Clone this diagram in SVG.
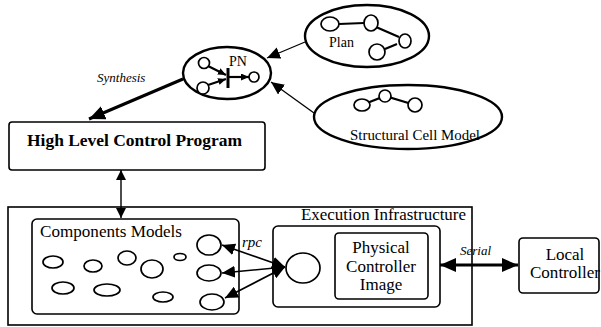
<svg xmlns="http://www.w3.org/2000/svg" width="601" height="327" viewBox="0 0 601 327">
<style>
text{font-family:"Liberation Serif",Tinos,"Times New Roman","DejaVu Serif",serif;fill:#000}
.it{font-style:italic}
.ln{stroke:#000;fill:none}
.bx{fill:#fff;stroke:#000;stroke-width:1.6}
.el{fill:#fff;stroke:#000;stroke-width:1.7}
.big{fill:none;stroke:#000;stroke-width:2.4}
</style>
<defs>
<marker id="aBig" markerUnits="userSpaceOnUse" viewBox="0 0 16 14" refX="16" refY="7" markerWidth="16" markerHeight="14" orient="auto-start-reverse"><path d="M0,0L16,7L0,14z"/></marker>
<marker id="aMid" markerUnits="userSpaceOnUse" viewBox="0 0 13 12" refX="13" refY="6" markerWidth="13" markerHeight="12" orient="auto-start-reverse"><path d="M0,0L13,6L0,12z"/></marker>
<marker id="aV" markerUnits="userSpaceOnUse" viewBox="0 0 10 10" refX="10" refY="5" markerWidth="10" markerHeight="10" orient="auto-start-reverse"><path d="M0,0L10,5L0,10z"/></marker>
<marker id="aS" markerUnits="userSpaceOnUse" viewBox="0 0 8 7" refX="8" refY="3.5" markerWidth="8" markerHeight="7" orient="auto-start-reverse"><path d="M0,0L8,3.5L0,7z"/></marker>
</defs>
<rect width="601" height="327" fill="#fff"/>

<g id="plan">
<ellipse class="big" cx="367" cy="36" rx="62" ry="31"/>
<path class="ln" stroke-width="2.2" d="M339,24L364,23M376,27L399,37M397,44L385,49"/>
<ellipse class="el" stroke-width="2.2" cx="330" cy="24" rx="9" ry="7"/>
<ellipse class="el" stroke-width="2.2" cx="371" cy="23" rx="7" ry="8"/>
<ellipse class="el" stroke-width="2.2" cx="405" cy="41" rx="6" ry="7"/>
<ellipse class="el" stroke-width="2.2" cx="377" cy="52" rx="8" ry="8"/>
<text x="329" y="47" font-size="14">Plan</text>
</g>

<g id="structural-cell-model">
<ellipse class="big" cx="408" cy="117" rx="94" ry="32"/>
<path class="ln" stroke-width="2.2" d="M362,105L385,96L415,105"/>
<ellipse class="el" stroke-width="2.2" cx="362" cy="105" rx="8" ry="6"/>
<ellipse class="el" stroke-width="2.2" cx="385" cy="96" rx="6" ry="6"/>
<ellipse class="el" stroke-width="2.2" cx="415" cy="105" rx="7" ry="7"/>
<text x="350" y="140" font-size="15" textLength="130" lengthAdjust="spacingAndGlyphs">Structural Cell Model</text>
</g>

<g id="pn">
<ellipse class="big" cx="227" cy="73" rx="44" ry="26"/>
<line class="ln" stroke-width="3" x1="228" y1="68" x2="228" y2="88"/>
<line class="ln" stroke-width="2.2" x1="208" y1="66" x2="226" y2="75" marker-end="url(#aS)"/>
<line class="ln" stroke-width="2.2" x1="208" y1="85" x2="226" y2="79" marker-end="url(#aS)"/>
<line class="ln" stroke-width="2.2" x1="228" y1="77" x2="249" y2="77" marker-end="url(#aS)"/>
<circle class="el" stroke-width="2.2" cx="204" cy="63" r="5.5"/>
<circle class="el" stroke-width="2.2" cx="203" cy="88" r="6"/>
<circle class="el" stroke-width="2.2" cx="254" cy="77" r="5"/>
<text x="229" y="66" font-size="14">PN</text>
</g>

<g id="high-level-control-program">
<rect class="bx" x="9" y="122" width="256" height="48" rx="3"/>
<text x="27" y="146" font-size="17" font-weight="bold" textLength="215" lengthAdjust="spacingAndGlyphs">High Level Control Program</text>
</g>

<g id="execution-infrastructure">
<rect class="bx" stroke-width="1.3" x="8" y="207" width="464" height="118"/>
<text x="301" y="220" font-size="16" textLength="165" lengthAdjust="spacingAndGlyphs">Execution Infrastructure</text>
</g>

<g id="components-models">
<rect class="bx" x="32" y="219" width="207" height="95" rx="5"/>
<text x="40" y="237" font-size="16" textLength="142" lengthAdjust="spacingAndGlyphs">Components Models</text>
<ellipse class="el" cx="53" cy="262" rx="10" ry="6"/>
<ellipse class="el" cx="93" cy="266" rx="9" ry="6"/>
<ellipse class="el" cx="127" cy="258" rx="9" ry="7"/>
<ellipse class="el" cx="152" cy="269" rx="11" ry="9"/>
<ellipse class="el" cx="180" cy="257" rx="6" ry="3.5"/>
<ellipse class="el" cx="63" cy="288" rx="11" ry="6"/>
<ellipse class="el" cx="107" cy="290" rx="13" ry="6"/>
<ellipse class="el" cx="163" cy="297" rx="10" ry="5"/>
<ellipse class="el" cx="209" cy="245" rx="12" ry="10"/>
<ellipse class="el" cx="209" cy="273" rx="12" ry="8"/>
<ellipse class="el" cx="212" cy="302" rx="12" ry="8"/>
</g>

<g id="rpc-server">
<rect class="bx" x="273" y="226" width="167" height="81" rx="5"/>
<ellipse class="el" cx="303" cy="268" rx="17" ry="15"/>
</g>

<g id="physical-controller-image">
<rect class="bx" x="335" y="233" width="93" height="66" rx="4"/>
<text x="381" y="253" font-size="17" text-anchor="middle">Physical</text>
<text x="381" y="272" font-size="17" text-anchor="middle">Controller</text>
<text x="381" y="290" font-size="17" text-anchor="middle">Image</text>
</g>

<g id="local-controller">
<rect class="bx" stroke-width="3" x="519" y="238" width="80" height="55" rx="4"/>
<text x="565" y="260" font-size="17" text-anchor="middle">Local</text>
<text x="565" y="278" font-size="17" text-anchor="middle" textLength="70" lengthAdjust="spacingAndGlyphs">Controller</text>
</g>

<g id="connectors">
<line class="ln" stroke-width="1.3" x1="305" y1="42" x2="267" y2="58" marker-end="url(#aMid)"/>
<line class="ln" stroke-width="1.3" x1="314" y1="113" x2="271" y2="82" marker-end="url(#aMid)"/>
<line class="ln" stroke-width="3" x1="183" y1="79" x2="89" y2="119" marker-end="url(#aBig)"/>
<line class="ln" stroke-width="1.4" x1="121" y1="170" x2="121" y2="218" marker-start="url(#aV)" marker-end="url(#aV)"/>
<line class="ln" stroke-width="1.6" x1="222" y1="245" x2="285" y2="267" marker-start="url(#aMid)" marker-end="url(#aMid)"/>
<line class="ln" stroke-width="1.6" x1="222" y1="273" x2="285" y2="267" marker-start="url(#aMid)" marker-end="url(#aMid)"/>
<line class="ln" stroke-width="1.6" x1="225" y1="298" x2="285" y2="267" marker-start="url(#aMid)" marker-end="url(#aMid)"/>
<line class="ln" stroke-width="3" x1="440" y1="265" x2="518" y2="265" marker-start="url(#aBig)" marker-end="url(#aBig)"/>
<text class="it" x="97" y="82" font-size="13">Synthesis</text>
<text class="it" x="242" y="247" font-size="15">rpc</text>
<text class="it" x="460" y="255" font-size="13">Serial</text>
</g>
</svg>
